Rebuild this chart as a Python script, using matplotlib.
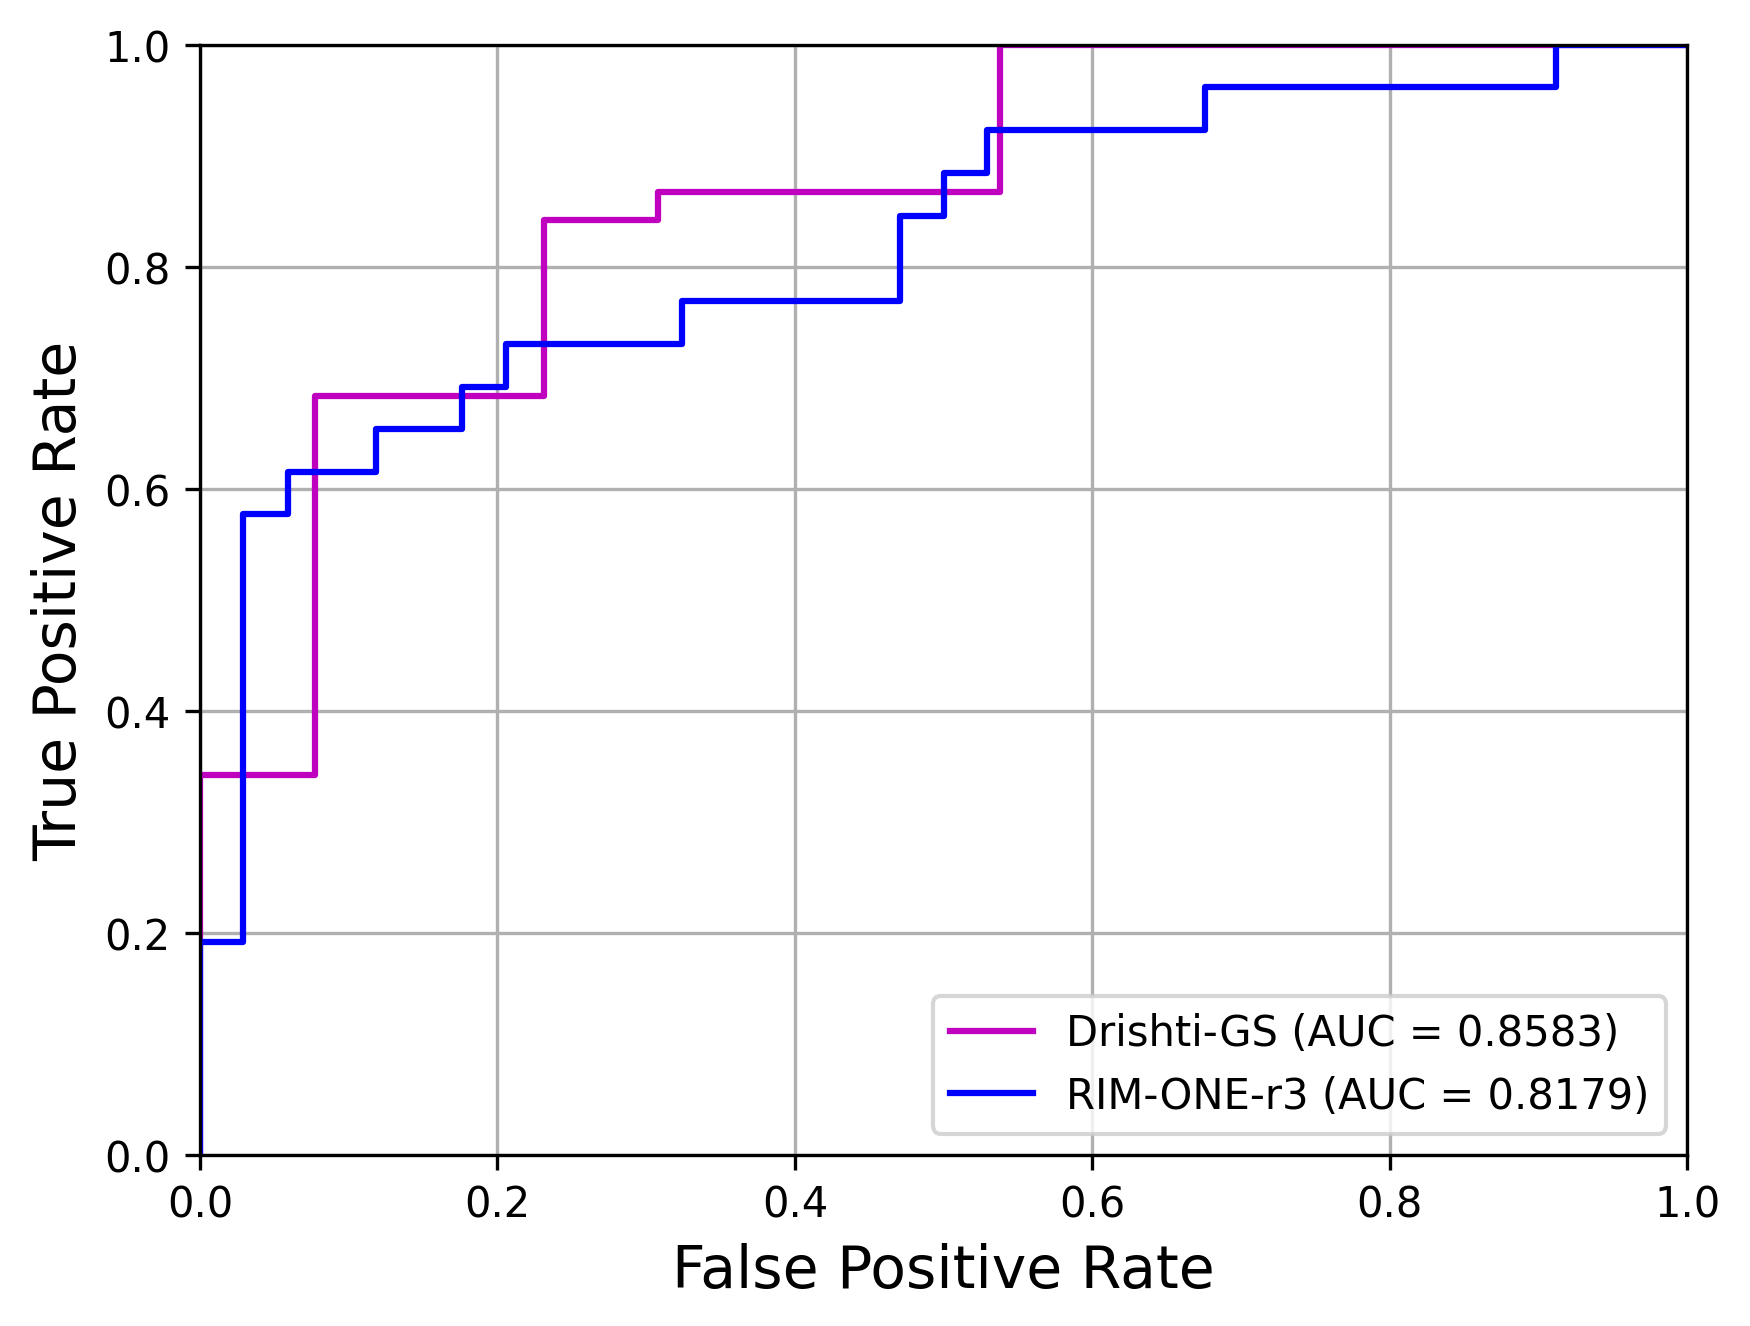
import matplotlib
matplotlib.use("Agg")
import matplotlib.pyplot as plt

# Drishti-GS ROC points
drishti_fpr = [0.0, 0.0, 0.077, 0.077, 0.231, 0.231, 0.308, 0.308, 0.538, 0.538, 1.0]
drishti_tpr = [0.0, 0.342, 0.342, 0.684, 0.684, 0.842, 0.842, 0.868, 0.868, 1.0, 1.0]
drishti_auc = 0.8583

# RIM-ONE-r3 ROC points
rim_fpr = [0.0, 0.0, 0.029, 0.029, 0.059, 0.059, 0.118, 0.118, 0.176, 0.176, 0.206, 0.206,
           0.324, 0.324, 0.471, 0.471, 0.500, 0.500, 0.529, 0.529, 0.676, 0.676, 0.912, 0.912, 1.0]
rim_tpr = [0.0, 0.192, 0.192, 0.577, 0.577, 0.615, 0.615, 0.654, 0.654, 0.692, 0.692, 0.731,
           0.731, 0.769, 0.769, 0.846, 0.846, 0.885, 0.885, 0.923, 0.923, 0.962, 0.962, 1.0, 1.0]
rim_auc = 0.8179

fig = plt.figure(figsize=(1750 / 300, 1327 / 300), dpi=300)
ax = fig.add_axes([0.1143, 0.1292, 0.8498, 0.8361])

ax.plot(drishti_fpr, drishti_tpr, color="m", lw=1.5,
        label="Drishti-GS (AUC = %0.4f)" % drishti_auc)
ax.plot(rim_fpr, rim_tpr, color="b", lw=1.5,
        label="RIM-ONE-r3 (AUC = %0.4f)" % rim_auc)

ax.set_xlim(0.0, 1.0)
ax.set_ylim(0.0, 1.0)
ax.set_xlabel("False Positive Rate", fontsize=14)
ax.set_ylabel("True Positive Rate", fontsize=14)
ax.grid(True)
ax.legend(loc="lower right")

fig.savefig("out.png", dpi=300)
